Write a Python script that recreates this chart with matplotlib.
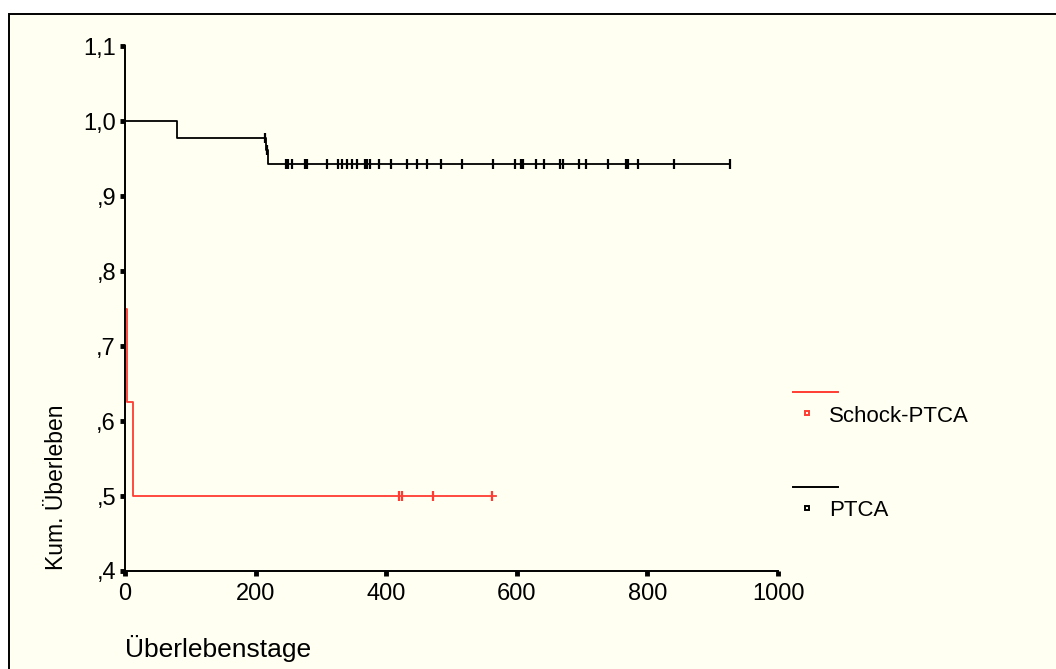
import matplotlib.pyplot as plt
from matplotlib.lines import Line2D
from matplotlib.patches import Rectangle
import numpy as np

plt.rcParams['font.family'] = ['Liberation Sans', 'DejaVu Sans']

# Kaplan-Meier curves
ptca_times = [0, 80, 216, 219, 926]
ptca_surv = [1.0, 0.977, 0.962, 0.943, 0.943]
ptca_censor = [215, 217.5, 246, 250, 255, 275, 279, 310, 326, 333, 340, 348, 355,
               368, 371, 375, 389, 408, 432, 447, 463, 484, 516, 563, 598, 606, 610,
               630, 641, 666, 670, 696, 706, 740, 767, 770, 785, 841, 926]

schock_times = [0, 2.5, 12, 568]
schock_surv = [0.75, 0.625, 0.5, 0.5]
schock_censor = [420, 424, 471, 562]

series_names = ['Schock-PTCA', 'PTCA']
series_colors = ['#FF3C32', 'black']

yticks = [0.4, 0.5, 0.6, 0.7, 0.8, 0.9, 1.0, 1.1]
ytick_labels = [',4', ',5', ',6', ',7', ',8', ',9', '1,0', '1,1']
xticks = [0, 200, 400, 600, 800, 1000]

W, H = 1056, 669
fig = plt.figure(figsize=(W / 100, H / 100), dpi=100, facecolor='white')
cream = '#FFFFF2'
fig.patches.append(Rectangle((8.5 / W, -0.1), 1.2, 1 - 14.5 / H + 0.1,
                             transform=fig.transFigure, facecolor=cream,
                             edgecolor='black', linewidth=1.4, zorder=-10))

ax = fig.add_axes([125 / W, 1 - 571 / H, (778 - 125) / W, (571 - 46) / H])
ax.set_facecolor('none')


def surv_at(times, surv, t):
    idx = np.searchsorted(times, t, side='right') - 1
    return np.array(surv)[idx]


curves = [(schock_times, schock_surv, schock_censor),
          (ptca_times, ptca_surv, ptca_censor)]
for (t, s, c), col in zip(curves, series_colors):
    ax.step(t, s, where='post', color=col, lw=1.3, clip_on=False)
    ax.plot(c, surv_at(t, s, c), ls='none', marker='|', ms=7, mew=1.6,
            color=col, clip_on=False)

ax.set_xlim(0, 1000)
ax.set_ylim(0.4, 1.1)
ax.set_xticks(xticks)
ax.set_xticklabels([str(x) for x in xticks])
ax.set_yticks(yticks)
ax.set_yticklabels(ytick_labels)
ax.tick_params(direction='out', length=3.5, width=3.5, labelsize=17, pad=3)
ax.tick_params(axis='x', pad=5)
for sp in ['top', 'right']:
    ax.spines[sp].set_visible(False)
for sp in ['left', 'bottom']:
    ax.spines[sp].set_linewidth(1.4)

fig.text(125 / W, 1 - 648 / H, 'Überlebenstage', fontsize=19,
         ha='left', va='center')
fig.text(57 / W, 1 - 487 / H, 'Kum. Überleben', fontsize=16.5,
         rotation=90, ha='center', va='center')

# legend drawn by hand: line above a small square marker
leg_y = [392, 487]
for name, col, y in zip(series_names, series_colors, leg_y):
    fig.add_artist(Line2D([793 / W, 838 / W], [1 - y / H, 1 - y / H],
                          transform=fig.transFigure, color=col, lw=1.4))
    fig.add_artist(Line2D([807 / W], [1 - (y + 21) / H], transform=fig.transFigure,
                          marker='s', ms=3.5, mfc='none', mec=col, mew=1.4,
                          ls='none'))
    fig.text(829 / W, 1 - (y + 24) / H, name, fontsize=16, ha='left',
             va='center')

plt.savefig('out.png', dpi=100, facecolor='white')
